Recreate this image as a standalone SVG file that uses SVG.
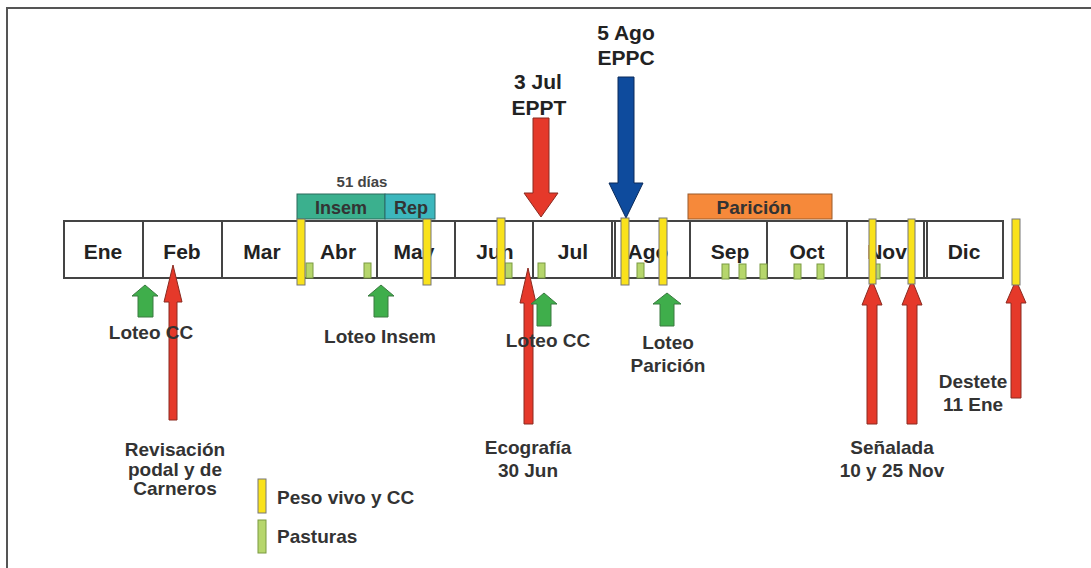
<svg xmlns="http://www.w3.org/2000/svg" width="1091" height="568" viewBox="0 0 1091 568">
<style>
text{font-family:"Liberation Sans",Arial,sans-serif;font-weight:bold;fill:#333;text-anchor:middle}
.m{font-size:21px;fill:#222}
.l{font-size:19px}
.t{font-size:21px;fill:#222}
.box{stroke:#444;stroke-width:2;fill:#fff}
.div{stroke:#444;stroke-width:2}
.y{fill:#f9e21c;stroke:#777;stroke-width:1}
.p{fill:#b6d66c;stroke:#7a9a40;stroke-width:1}
.r{fill:#e5392a;stroke:#8a2a20;stroke-width:1}
.g{fill:#3fae4b;stroke:#3a7a40;stroke-width:1}
</style>
<rect width="1091" height="568" fill="#fff"/>
<path d="M7,568 V8 H1091" fill="none" stroke="#555" stroke-width="2"/>

<g id="timeline">
<rect class="box" x="64" y="221" width="939" height="57"/>
<line class="div" x1="143" y1="221" x2="143" y2="278"/>
<line class="div" x1="222" y1="221" x2="222" y2="278"/>
<line class="div" x1="300" y1="221" x2="300" y2="278"/>
<line class="div" x1="377" y1="221" x2="377" y2="278"/>
<line class="div" x1="455" y1="221" x2="455" y2="278"/>
<line class="div" x1="533" y1="221" x2="533" y2="278"/>
<line class="div" x1="612" y1="221" x2="612" y2="278"/>
<line class="div" x1="615" y1="221" x2="615" y2="278"/>
<line class="div" x1="690" y1="221" x2="690" y2="278"/>
<line class="div" x1="767" y1="221" x2="767" y2="278"/>
<line class="div" x1="847" y1="221" x2="847" y2="278"/>
<line class="div" x1="924" y1="221" x2="924" y2="278"/>
<line class="div" x1="927" y1="221" x2="927" y2="278"/>
<text class="m" x="103" y="259">Ene</text>
<text class="m" x="182" y="259">Feb</text>
<text class="m" x="262" y="259">Mar</text>
<text class="m" x="338" y="259">Abr</text>
<text class="m" x="414" y="259">May</text>
<text class="m" x="495" y="259">Jun</text>
<text class="m" x="573" y="259">Jul</text>
<text class="m" x="648" y="259">Ago</text>
<text class="m" x="730" y="259">Sep</text>
<text class="m" x="807" y="259">Oct</text>
<text class="m" x="887" y="259">Nov</text>
<text class="m" x="964" y="259">Dic</text>
</g>

<g id="periods">
<text x="362" y="187" style="font-size:15px;fill:#444">51 días</text>
<rect x="297" y="194" width="88" height="25" fill="#3bb08e" stroke="#2a6a5a" stroke-width="1"/>
<rect x="385" y="194" width="50" height="25" fill="#3cb7bd" stroke="#2a6a6a" stroke-width="1"/>
<text x="341" y="214" style="font-size:18px">Insem</text>
<text x="411" y="214" style="font-size:18px">Rep</text>
<rect x="688" y="194" width="144" height="25" fill="#f6893a" stroke="#9a5a2a" stroke-width="1"/>
<text x="754" y="214" style="font-size:19px">Parición</text>
</g>

<g id="pasturas">
<rect class="p" x="306" y="263" width="7" height="15"/>
<rect class="p" x="364" y="263" width="7" height="15"/>
<rect class="p" x="505" y="263" width="7" height="15"/>
<rect class="p" x="538" y="263" width="7" height="15"/>
<rect class="p" x="637" y="263" width="7" height="15"/>
<rect class="p" x="722" y="264" width="7" height="15"/>
<rect class="p" x="739" y="264" width="7" height="15"/>
<rect class="p" x="760" y="264" width="7" height="15"/>
<rect class="p" x="794" y="264" width="7" height="15"/>
<rect class="p" x="817" y="264" width="7" height="15"/>
<rect class="p" x="874" y="264" width="6" height="15"/>
</g>

<g id="connectors">
<polygon class="r" points="173,265 182,302 177,302 177,420 169,420 169,302 164,302"/>
<polygon class="r" points="528,268 536,303 533,303 533,424 524,424 524,303 520,303"/>
<polygon class="r" points="872,280 882,305 877,305 877,424 867,424 867,305 862,305"/>
<polygon class="r" points="912,280 922,305 917,305 917,424 907,424 907,305 902,305"/>
<polygon class="r" points="1016,280 1026,303 1021,303 1021,398 1011,398 1011,303 1006,303"/>
<polygon class="g" points="145,285 158,296 153,296 153,317 138,317 138,296 132,296"/>
<polygon class="g" points="381,285 394,296 388,296 388,317 374,317 374,296 368,296"/>
<polygon class="g" points="544,293 557,304 551,304 551,326 537,326 537,304 531,304"/>
<polygon class="g" points="667,293 681,304 674,304 674,326 660,326 660,304 653,304"/>
<polygon points="533,118 549,118 549,193 558,193 541,217 524,193 533,193" fill="#e5392a" stroke="#8a2a20" stroke-width="1"/>
<polygon points="618,77 634,77 634,183 643,183 626,218 609,183 618,183" fill="#0e4b9d" stroke="#0a2a5a" stroke-width="1"/>
</g>

<g id="pesos">
<rect class="y" x="297" y="219" width="8" height="66"/>
<rect class="y" x="423" y="219" width="8" height="66"/>
<rect class="y" x="497" y="218" width="8" height="67"/>
<rect class="y" x="621" y="218" width="8" height="67"/>
<rect class="y" x="659" y="218" width="8" height="67"/>
<rect class="y" x="869" y="219" width="7" height="65"/>
<rect class="y" x="908" y="219" width="7" height="65"/>
<rect class="y" x="1012" y="219" width="8" height="66"/>
</g>

<g id="labels">
<text class="t" x="538" y="89">3 Jul</text>
<text class="t" x="539" y="115">EPPT</text>
<text class="t" x="626" y="40">5 Ago</text>
<text class="t" x="626" y="65">EPPC</text>
<text class="l" x="151" y="339">Loteo CC</text>
<text class="l" x="380" y="343">Loteo Insem</text>
<text class="l" x="548" y="347">Loteo CC</text>
<text class="l" x="668" y="349">Loteo</text>
<text class="l" x="668" y="372">Parición</text>
<text class="l" x="175" y="456">Revisación</text>
<text class="l" x="175" y="476">podal y de</text>
<text class="l" x="175" y="495">Carneros</text>
<text class="l" x="528" y="454">Ecografía</text>
<text class="l" x="528" y="477">30 Jun</text>
<text class="l" x="892" y="454">Señalada</text>
<text class="l" x="892" y="477">10 y 25 Nov</text>
<text class="l" x="973" y="388">Destete</text>
<text class="l" x="973" y="411">11 Ene</text>
</g>

<g id="legend">
<rect class="y" x="258" y="479" width="8" height="34"/>
<rect class="p" x="258" y="520" width="8" height="33"/>
<text class="l" x="277" y="504" style="text-anchor:start">Peso vivo y CC</text>
<text class="l" x="277" y="543" style="text-anchor:start">Pasturas</text>
</g>
</svg>
